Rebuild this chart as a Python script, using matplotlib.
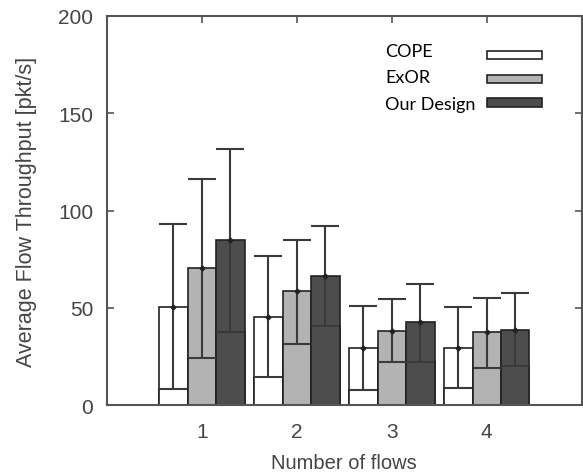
import numpy as np
import matplotlib
matplotlib.use("Agg")
import matplotlib.pyplot as plt
from matplotlib.patches import Rectangle

# datos
flujos = [1, 2, 3, 4]
series = ["COPE", "ExOR", "Our Design"]
media = {
    "COPE": [50.5, 45.5, 29.4, 29.4],
    "ExOR": [70.6, 58.4, 38.1, 37.3],
    "Our Design": [84.6, 66.2, 42.8, 38.7],
}
minimo = {
    "COPE": [8.2, 14.6, 7.9, 8.8],
    "ExOR": [24.2, 31.4, 22.3, 19.2],
    "Our Design": [37.5, 40.5, 22.3, 19.9],
}
maximo = {
    "COPE": [93.3, 76.4, 50.9, 50.2],
    "ExOR": [116.0, 84.7, 54.5, 55.0],
    "Our Design": [131.6, 91.9, 62.4, 57.6],
}
colores = {"COPE": "#ffffff", "ExOR": "#b3b3b3", "Our Design": "#4d4d4d"}

gris = "#444444"
plt.rcParams['font.family'] = ['Liberation Sans', 'DejaVu Sans']

fig = plt.figure(figsize=(5.83, 4.77), dpi=100)
ax = fig.add_axes([0.1835, 0.1488, 0.8143, 0.8156])

ancho = 0.3
x = np.array(flujos, dtype=float)
for i, s in enumerate(series):
    pos = x + (i - 1) * ancho
    # barra hasta la media y linea interior en el minimo
    ax.bar(pos, media[s], width=ancho, color=colores[s], edgecolor="#222222",
           linewidth=1.2, zorder=2)
    ax.bar(pos, minimo[s], width=ancho, color=colores[s], edgecolor="#222222",
           linewidth=1.2, zorder=2)
    m = np.array(media[s])
    err = [m - np.array(minimo[s]), np.array(maximo[s]) - m]
    ax.errorbar(pos, m, yerr=err, fmt="D", color="#222222", ms=2.5,
                ecolor="#3a3a3a", elinewidth=1.5, capsize=10, capthick=1.5,
                zorder=3)

ax.set_xlim(0, 5)
ax.set_ylim(0, 200)
ax.set_xticks(flujos)
ax.set_yticks([0, 50, 100, 150, 200])
ax.tick_params(direction="in", top=True, right=True, length=5, width=1.2,
               color="#555555", labelcolor=gris, labelsize=15)
ax.tick_params(axis="x", pad=12)
ax.tick_params(axis="y", pad=10)
for sp in ax.spines.values():
    sp.set_color("#555555")
    sp.set_linewidth(1.5)

ax.set_xlabel("Number of flows", fontsize=14.5, color=gris, labelpad=9)
ax.set_ylabel("Average Flow Throughput [pkt/s]", fontsize=15.5, color=gris,
              labelpad=15)

# leyenda manual: texto a la izquierda, caja a la derecha
ty = [0.911, 0.842, 0.774]
py = [0.900, 0.838, 0.778]
for s, t, p in zip(series, ty, py):
    ax.text(0.586, t, s, transform=ax.transAxes, fontsize=13, va="center",
            ha="left", family=["Lato", "DejaVu Sans"], color="black")
    ax.add_patch(Rectangle((0.801, p - 0.011), 0.116, 0.022,
                           transform=ax.transAxes, facecolor=colores[s],
                           edgecolor="#222222", linewidth=1.2))

fig.savefig("out.png", dpi=100)
